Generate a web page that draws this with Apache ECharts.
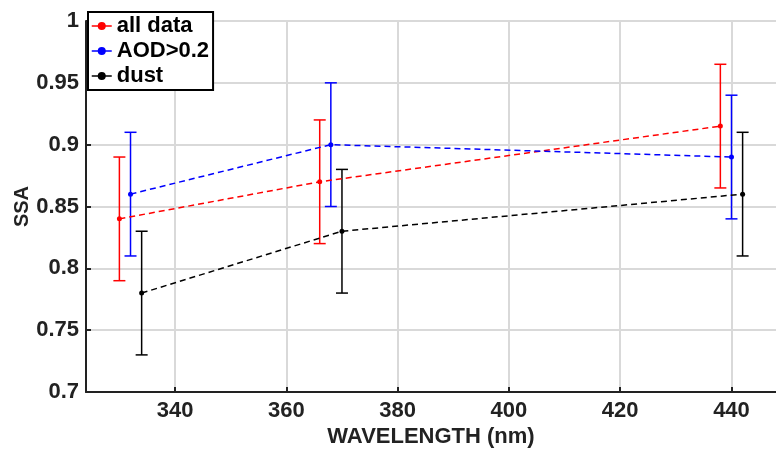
<!DOCTYPE html>
<html>
<head>
<meta charset="utf-8">
<script src="https://cdn.jsdelivr.net/npm/echarts@6/dist/echarts.min.js"></script>
<style>
html, body { margin: 0; padding: 0; background: #fff; }
#chart { width: 776px; height: 450px; }
</style>
</head>
<body>
<div id="chart"></div>
<script>
// values
var seriesNames = ['all data', 'AOD>0.2', 'dust'];
var seriesColors = ['#ff0000', '#0000ff', '#000000'];
var allX = [330, 366, 438];
var allY = [0.84, 0.87, 0.915];
var allErr = [0.05, 0.05, 0.05];
var aodX = [332, 368, 440];
var aodY = [0.86, 0.90, 0.89];
var aodErr = [0.05, 0.05, 0.05];
var dustX = [334, 370, 442];
var dustY = [0.78, 0.83, 0.86];
var dustErr = [0.05, 0.05, 0.05];
var xTicks = [340, 360, 380, 400, 420, 440];

var groups = [
    {x: allX, y: allY, e: allErr},
    {x: aodX, y: aodY, e: aodErr},
    {x: dustX, y: dustY, e: dustErr}
];

var font = '"Liberation Sans", Arial, sans-serif';
var chart = echarts.init(document.getElementById('chart'));

function errorBars(color) {
    return function(params, api) {
        var x = api.value(0);
        var lo = api.coord([x, api.value(1)]);
        var hi = api.coord([x, api.value(2)]);
        var half = 6;
        var style = {stroke: color, lineWidth: 1.5};
        return {
            type: 'group',
            children: [
                {type: 'line', shape: {x1: lo[0], y1: lo[1], x2: hi[0], y2: hi[1]}, style: style},
                {type: 'line', shape: {x1: lo[0] - half, y1: lo[1], x2: lo[0] + half, y2: lo[1]}, style: style},
                {type: 'line', shape: {x1: hi[0] - half, y1: hi[1], x2: hi[0] + half, y2: hi[1]}, style: style}
            ]
        };
    };
}

var series = [];
groups.forEach(function(g, i) {
    series.push({
        name: seriesNames[i],
        type: 'line',
        symbol: 'circle',
        symbolSize: 5,
        z: 3,
        itemStyle: {color: seriesColors[i]},
        lineStyle: {color: seriesColors[i], width: 1.5, type: [6, 4]},
        data: g.x.map(function(x, k) { return [x, g.y[k]]; })
    });
});
groups.forEach(function(g, i) {
    series.push({
        name: seriesNames[i] + ' error',
        type: 'custom',
        renderItem: errorBars(seriesColors[i]),
        silent: true,
        z: 2,
        itemStyle: {color: seriesColors[i]},
        data: g.x.map(function(x, k) { return [x, g.y[k] - g.e[k], g.y[k] + g.e[k]]; })
    });
});

chart.setOption({
    animation: false,
    grid: {left: 86, right: 0, top: 21, bottom: 58, outerBoundsMode: 'none', containLabel: false},
    legend: {
        data: seriesNames,
        orient: 'vertical',
        left: 88,
        top: 12,
        padding: [3, 4, 3, 3],
        itemGap: 3,
        itemWidth: 20,
        itemHeight: 10,
        backgroundColor: '#fff',
        borderColor: '#000',
        borderWidth: 2,
        borderRadius: 0,
        lineStyle: {type: [7, 6], width: 1.5},
        textStyle: {fontFamily: font, fontWeight: 'bold', fontSize: 22, color: '#000'}
    },
    xAxis: {
        type: 'value',
        min: 324,
        max: 448,
        name: 'WAVELENGTH (nm)',
        nameLocation: 'middle',
        nameGap: 34,
        nameMoveOverlap: false,
        nameTextStyle: {fontFamily: font, fontWeight: 'bold', fontSize: 22, color: '#222'},
        axisLine: {lineStyle: {color: '#222', width: 2}},
        axisTick: {inside: true, length: 5, customValues: xTicks, lineStyle: {color: '#222', width: 2}},
        axisLabel: {customValues: xTicks, fontFamily: font, fontWeight: 'bold', fontSize: 22, color: '#222', margin: 8},
        splitLine: {show: true, lineStyle: {color: '#d9d9d9', width: 2}}
    },
    yAxis: {
        type: 'value',
        min: 0.7,
        max: 1,
        interval: 0.05,
        name: 'SSA',
        nameLocation: 'middle',
        nameGap: 54,
        nameMoveOverlap: false,
        nameTextStyle: {fontFamily: font, fontWeight: 'bold', fontSize: 20, color: '#222'},
        axisLine: {show: true, lineStyle: {color: '#222', width: 2}},
        axisTick: {show: true, inside: true, length: 5, lineStyle: {color: '#222', width: 2}},
        axisLabel: {fontFamily: font, fontWeight: 'bold', fontSize: 22, color: '#222', margin: 7},
        splitLine: {show: true, lineStyle: {color: '#d9d9d9', width: 2}}
    },
    series: series
});
</script>
</body>
</html>
